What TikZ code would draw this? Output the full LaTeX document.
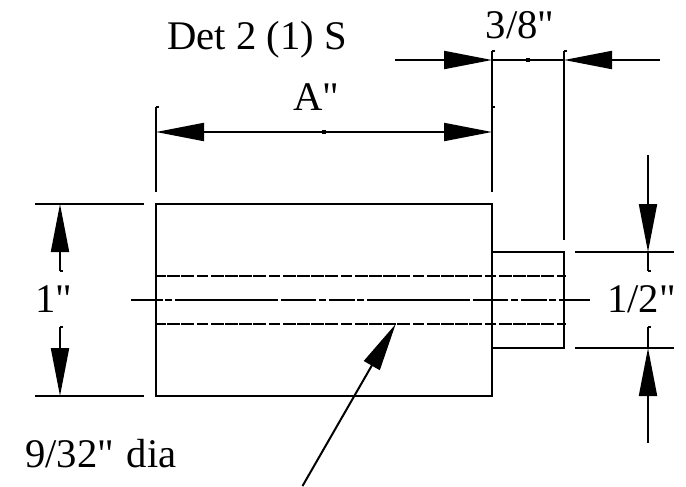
\documentclass[tikz,border=0pt]{standalone}
\usepackage{fontspec}
\newfontfamily\lblfont{Liberation Serif}
\usetikzlibrary{arrows.meta}
\tikzset{
  x=0.75pt,y=-0.75pt,
  ln/.style={line width=1.5pt,black},
  thin ln/.style={line width=1.5pt,black},
  dimarrow/.style={ln,-{Triangle[length=36pt,width=13.5pt,sharp]}},
  hidden/.style={line width=1.5pt,dash pattern=on 8.4pt off 2.1pt on 9.9pt off .8pt on 9.7pt off .8pt on 9.7pt off .8pt on 9.7pt off 2.1pt,dash phase=23.25pt},
  centre/.style={line width=1.5pt,dash pattern=on 5pt off 2.5pt on 77.2pt off 2.1pt on 26.7pt off 2pt on 5.3pt off 2.2pt on 19.4pt off 1.6pt,dash phase=0pt},
  lbl/.style={font=\lblfont\fontsize{30.5}{31}\selectfont,inner sep=0pt,text=black},
  tick/.style={line width=1.1pt,black}
}
\begin{document}
\begin{tikzpicture}
\useasboundingbox (0,0) rectangle (686,486);
\fill[white] (0,0) rectangle (686,486);
% body
\coordinate (tl) at (156,204);
\coordinate (tr) at (492,204);
\coordinate (bl) at (156,396);
\coordinate (br) at (492,396);
\coordinate (stl) at (492,252);
\coordinate (str) at (564,252);
\coordinate (sbl) at (492,348);
\coordinate (sbr) at (564,348);
\draw[ln] (tl) -- (tr) -- (br) -- (bl) -- cycle;
\draw[ln] (stl) -- (str) -- (sbr) -- (sbl);
% hidden and centre lines
\coordinate (h1a) at (156,276); \coordinate (h1b) at (566,276);
\coordinate (h2a) at (156,324); \coordinate (h2b) at (566,324);
\coordinate (ca) at (131,300); \coordinate (cs) at (163.3,300); \coordinate (cd) at (165,300); \coordinate (cb) at (590,300);
\draw[hidden] (h1a) -- (h1b);
\draw[hidden] (h2a) -- (h2b);
\draw[line width=1.5pt] (ca) -- (cs);
\draw[centre] (cd) -- (cb);
% extension lines
\coordinate (e1a) at (35,204); \coordinate (e1b) at (144,204);
\coordinate (e2a) at (35,396); \coordinate (e2b) at (144,396);
\coordinate (e3a) at (575,252); \coordinate (e3b) at (674,252);
\coordinate (e4a) at (575,348); \coordinate (e4b) at (674,348);
\coordinate (e5a) at (156,107); \coordinate (e5b) at (156,192);
\coordinate (e6a) at (492,51); \coordinate (e6b) at (492,192);
\coordinate (e7a) at (564,51); \coordinate (e7b) at (564,240);
\foreach \a/\b in {e1a/e1b,e2a/e2b,e3a/e3b,e4a/e4b,e5a/e5b,e6a/e6b,e7a/e7b} \draw[thin ln] (\a) -- (\b);
% dim: 1"
\coordinate (d1t) at (60,204); \coordinate (d1u) at (60,271);
\coordinate (d1b) at (60,396); \coordinate (d1l) at (60,327);
\draw[dimarrow] (d1u) -- (d1t);
\draw[dimarrow] (d1l) -- (d1b);
% dim: 1/2"
\coordinate (d2a) at (648,155); \coordinate (d2t) at (648,252); \coordinate (d2u) at (648,271);
\coordinate (d2b) at (648,443); \coordinate (d2k) at (648,348); \coordinate (d2l) at (648,327);
\draw[thin ln] (d2t) -- (d2u);
\draw[thin ln] (d2k) -- (d2l);
\draw[dimarrow] (d2a) -- (d2t);
\draw[dimarrow] (d2b) -- (d2k);
% dim: A"
\coordinate (dal) at (156,132); \coordinate (dar) at (492,132); \coordinate (dam) at (324,132);
\draw[dimarrow] (dam) -- (dal);
\draw[dimarrow] (dam) -- (dar);
% dim: 3/8"
\coordinate (dbo1) at (395,60); \coordinate (db1) at (492,60);
\coordinate (dbo2) at (660,60); \coordinate (db2) at (564,60);
\coordinate (dbm) at (528,60);
\draw[dimarrow] (dbo1) -- (db1);
\draw[dimarrow] (dbo2) -- (db2);
\draw[thin ln] (db1) -- (db2);
% small marks at line ends and mid-points
\foreach \p in {e5a,e6a,e7a,d1u,d1l,d2u,d2l} \draw[tick] (\p) -- ++(3,0);
\coordinate (e6m) at (492,107);
\draw[tick] (e6m) -- ++(3,0);
\foreach \p in {dam,dbm} \fill[black] (\p) ++(-2,-2) rectangle ++(4,4);
% leader
\coordinate (la) at (302.5,486); \coordinate (lt) at (395.7,324);
\draw[dimarrow] (la) -- (lt);
% labels
\node[lbl,anchor=base] (t1) at (53.5,312) {1"};
\node[lbl,anchor=base] (t2) at (641.5,312) {1/2"};
\node[lbl,anchor=base] (t3) at (316,110) {A"};
\node[lbl,anchor=base] (t4) at (520,38) {3/8"};
\node[lbl,anchor=base west] (t5) at (167,49.5) {Det 2 (1) S};
\node[lbl,anchor=base west] (t6) at (25,467.5) {9/32"\kern2pt\ dia};
\end{tikzpicture}
\end{document}
